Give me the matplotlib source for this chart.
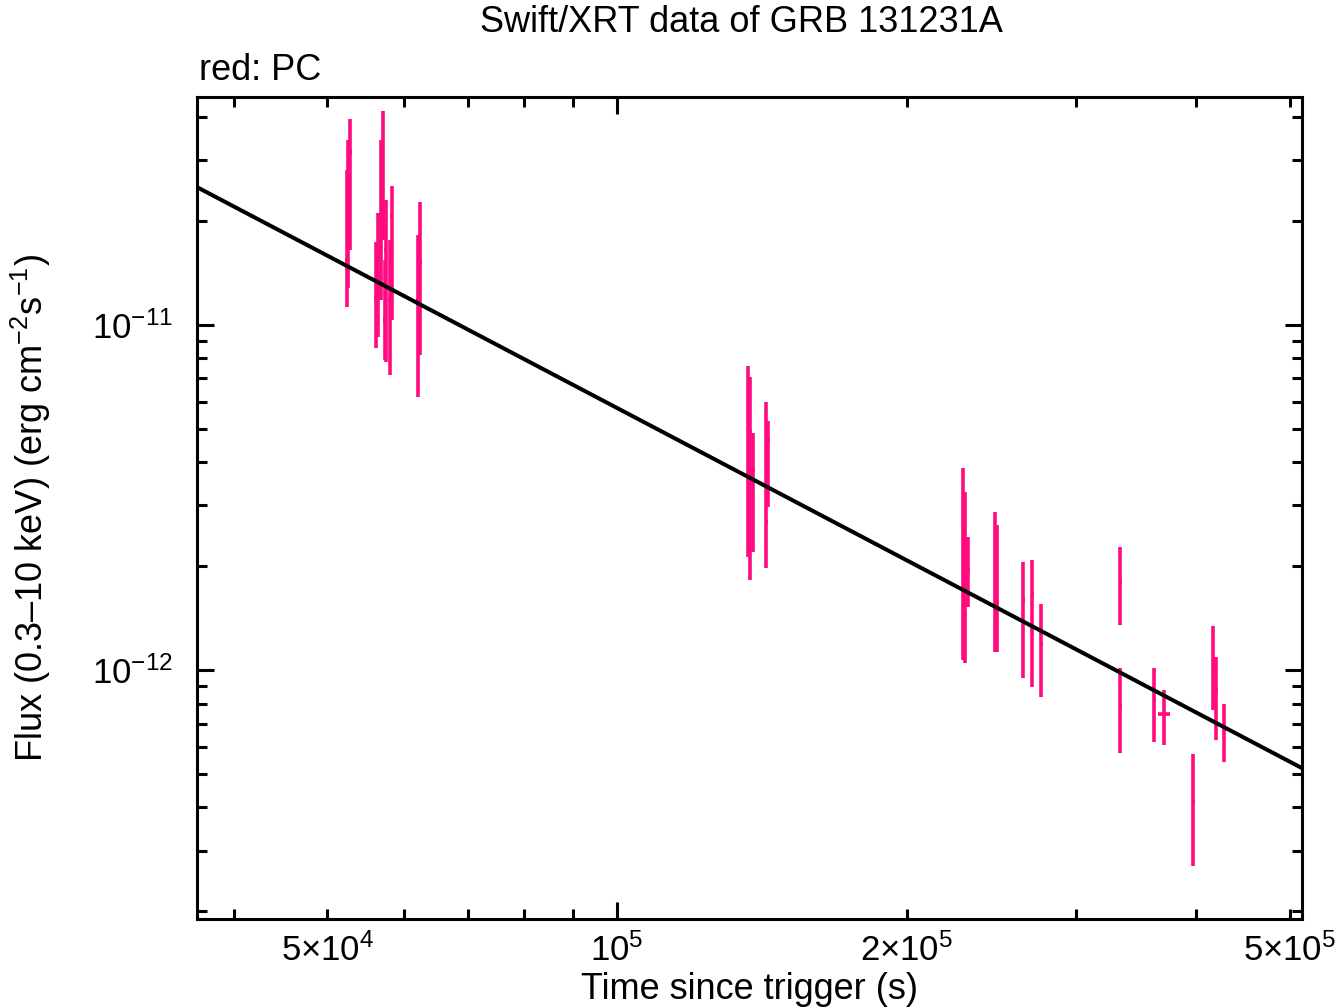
import matplotlib
matplotlib.use("Agg")
import matplotlib.pyplot as plt
import numpy as np
from matplotlib.ticker import FixedLocator, FuncFormatter, NullFormatter

plt.rcParams['font.family'] = ['Liberation Sans', 'DejaVu Sans']
plt.rcParams['mathtext.fontset'] = 'custom'
plt.rcParams['mathtext.rm'] = 'Liberation Sans'
plt.rcParams['mathtext.it'] = 'Liberation Sans'

# PC mode points: time (s), time half-width (s), flux and its lower/upper bounds (erg/cm2/s)
time = [52790, 52540, 52400,
        57120, 56850, 58360, 56440, 56170, 57530, 58080, 57390,
        62410, 62110,
        136850, 137500, 138500, 142870, 143560,
        228900, 230000, 231700, 247200, 248300, 264200, 270000, 275900,
        333400, 333400, 361500, 370300, 396900, 416400, 419500, 427600]
time_err = [200, 200, 200,
            200, 200, 200, 200, 200, 200, 200, 200,
            230, 230,
            500, 500, 500, 500, 500,
            850, 850, 850, 900, 900, 950, 950, 1000,
            1200, 1200, 1300, 5500, 1400, 1500, 1500, 1500]
flux = [3.17e-11, 2.545e-11, 1.543e-11,
        3.369e-11, 2.721e-11, 2.07e-11, 1.443e-11, 1.206e-11, 1.65e-11, 1.182e-11, 1.034e-11,
        1.523e-11, 1.182e-11,
        5.23e-12, 4.90e-12, 3.80e-12, 2.69e-12, 4.64e-12,
        2.38e-12, 1.443e-12, 1.95e-12, 2.04e-12, 1.574e-12, 1.596e-12, 1.661e-12, 1.19e-12,
        1.80e-12, 7.87e-13, 8.18e-13, 7.46e-13, 4.17e-13, 1.048e-12, 8.75e-13, 6.70e-13]
flux_lo = [1.65e-11, 1.28e-11, 1.128e-11,
           1.764e-11, 1.182e-11, 1.034e-11, 9.23e-12, 8.58e-12, 7.81e-12, 7.16e-12, 7.92e-12,
           8.18e-12, 6.18e-12,
           2.13e-12, 1.824e-12, 2.20e-12, 1.975e-12, 2.97e-12,
           1.069e-12, 1.048e-12, 1.522e-12, 1.128e-12, 1.128e-12, 9.48e-13, 8.93e-13, 8.35e-13,
           1.35e-12, 5.74e-13, 6.18e-13, 6.06e-13, 2.70e-13, 7.66e-13, 6.27e-13, 5.41e-13]
flux_hi = [3.955e-11, 3.437e-11, 2.813e-11,
           4.17e-11, 3.437e-11, 2.529e-11, 2.112e-11, 1.74e-11, 2.303e-11, 1.764e-11, 1.543e-11,
           2.272e-11, 1.824e-11,
           7.61e-12, 7.07e-12, 4.86e-12, 5.98e-12, 5.27e-12,
           3.85e-12, 3.28e-12, 2.43e-12, 2.87e-12, 2.63e-12, 2.056e-12, 2.08e-12, 1.553e-12,
           2.27e-12, 1.013e-12, 1.013e-12, 8.75e-13, 5.71e-13, 1.341e-12, 1.091e-12, 7.97e-13]

# power-law fit, given by its two end points
fit_time = [36600, 515000]
fit_flux = [2.51e-11, 5.2e-13]

x_labels = {5e4: r'$5{\times}10^4$', 2e5: r'$2{\times}10^5$', 5e5: r'$5{\times}10^5$'}

t = np.array(time)
f = np.array(flux)
yerr = [f - np.array(flux_lo), np.array(flux_hi) - f]

fig = plt.figure(figsize=(13.37, 10.08), dpi=100)
ax = fig.add_axes([0.1473, 0.0883, 0.8265, 0.8155])

pink = '#ff0a7f'
ax.errorbar(t, f, xerr=time_err, yerr=yerr, fmt='none', ecolor=pink,
            elinewidth=2.6, capsize=0, zorder=2)
ax.plot(fit_time, fit_flux, color='black', lw=2.9, zorder=3)

ax.set_xscale('log')
ax.set_yscale('log')
ax.set_xlim(36600, 515000)
ax.set_ylim(1.9e-13, 4.58e-11)

ax.xaxis.set_major_locator(FixedLocator([1e5]))
ax.xaxis.set_major_formatter(FuncFormatter(lambda v, p: r'$10^5$'))
ax.xaxis.set_minor_locator(FixedLocator([4e4, 5e4, 6e4, 7e4, 8e4, 9e4, 2e5, 3e5, 4e5, 5e5]))
ax.xaxis.set_minor_formatter(FuncFormatter(lambda v, p: x_labels.get(round(v), '')))

ax.yaxis.set_major_locator(FixedLocator([1e-12, 1e-11]))
ax.yaxis.set_major_formatter(FuncFormatter(lambda v, p: r'$10^{%d}$' % round(np.log10(v))))
ax.yaxis.set_minor_locator(FixedLocator([2e-13, 3e-13, 4e-13, 5e-13, 6e-13, 7e-13, 8e-13, 9e-13,
                                         2e-12, 3e-12, 4e-12, 5e-12, 6e-12, 7e-12, 8e-12, 9e-12,
                                         2e-11, 3e-11, 4e-11]))
ax.yaxis.set_minor_formatter(NullFormatter())

for s in ax.spines.values():
    s.set_linewidth(2.2)
ax.tick_params(which='both', direction='in', top=True, right=True, width=2.2, labelsize=25)
ax.tick_params(which='major', length=12)
ax.tick_params(which='minor', length=7)
ax.tick_params(axis='x', which='both', pad=10)
ax.tick_params(axis='y', which='both', pad=17)

ax.set_xlabel('Time since trigger (s)', fontsize=26)
ax.xaxis.set_label_coords(0.5, -0.064)
ax.set_ylabel(r'Flux (0.3–10 keV) (erg cm$^{-2}$s$^{-1}$)', fontsize=26)
ax.yaxis.set_label_coords(-0.130, 0.5)

ax.text(0.4923, 1.079, 'Swift/XRT data of GRB 131231A', transform=ax.transAxes,
        ha='center', va='baseline', fontsize=26)
ax.text(0.002, 1.021, 'red: PC', transform=ax.transAxes,
        ha='left', va='baseline', fontsize=26)

fig.savefig('out.png', dpi=100)
